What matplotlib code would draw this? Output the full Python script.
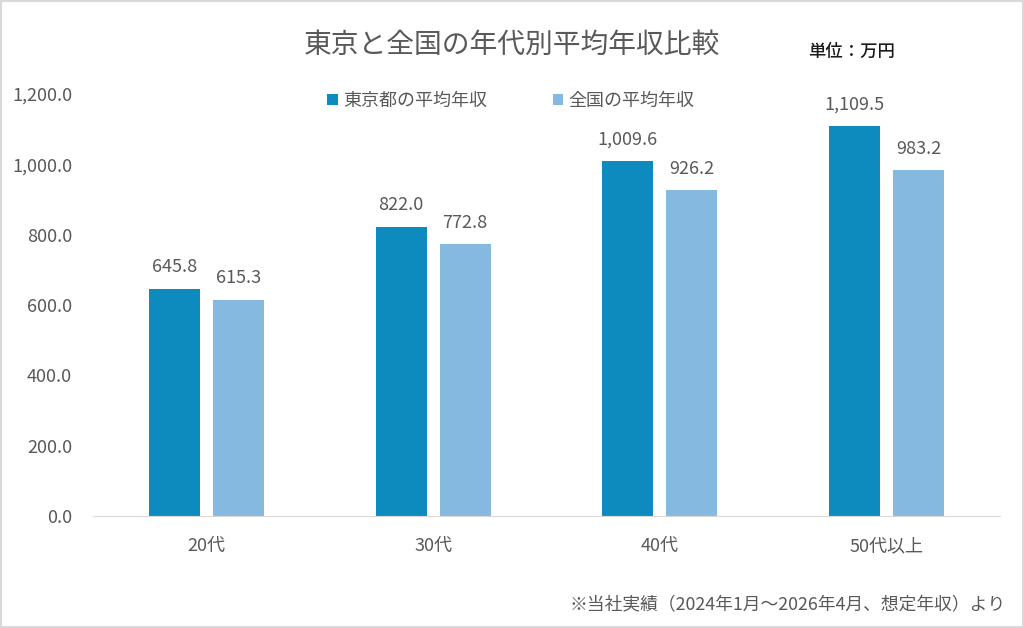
import matplotlib
matplotlib.use("Agg")
import matplotlib.pyplot as plt
import numpy as np
from matplotlib.patches import Rectangle

plt.rcParams['font.family'] = ['Noto Sans CJK JP', 'DejaVu Sans']

categories = ['20代', '30代', '40代', '50代以上']
tokyo = [645.8, 822.0, 1009.6, 1109.5]
national = [615.3, 772.8, 926.2, 983.2]
series_names = ['東京都の平均年収', '全国の平均年収']
yticks = [0, 200, 400, 600, 800, 1000, 1200]

c_tokyo = '#0E8BBE'
c_nat = '#85B9E0'
txt = '#595959'

fig = plt.figure(figsize=(10.24, 6.28), dpi=100)
ax = fig.add_axes([93 / 1024, 1 - 516 / 628, 907 / 1024, 422 / 628])

x = np.arange(len(categories))
w = 0.225
off = 0.141
b1 = ax.bar(x - off, tokyo, w, color=c_tokyo, label=series_names[0])
b2 = ax.bar(x + off, national, w, color=c_nat, label=series_names[1])

for bars in (b1, b2):
    for r in bars:
        ax.annotate(f'{r.get_height():,.1f}', (r.get_x() + r.get_width() / 2, r.get_height()),
                    xytext=(0, 9), textcoords='offset points', ha='center', va='bottom',
                    fontsize=13, color=txt, annotation_clip=False)

ax.set_xlim(-0.5, 3.5)
ax.set_ylim(0, 1200)
ax.set_yticks(yticks)
ax.set_yticklabels([f'{v:,.1f}' for v in yticks])
ax.set_xticks(x)
ax.set_xticklabels(categories)
ax.tick_params(axis='both', length=0, labelsize=13, colors=txt)
ax.tick_params(axis='x', pad=15)
ax.tick_params(axis='y', pad=15)
for s in ['top', 'right', 'left']:
    ax.spines[s].set_visible(False)
ax.spines['bottom'].set_color('#D9D9D9')

fig.text(512 / 1024, 1 - 45 / 628, '東京と全国の年代別平均年収比較', ha='center', va='center',
         fontsize=20, color=txt)
fig.text(852 / 1024, 1 - 52 / 628, '単位：万円', ha='center', va='center',
         fontsize=12.5, color='#1a1a1a', fontweight='medium')
fig.text(1006 / 1024, 1 - 604 / 628, '※当社実績（2024年1月～2026年4月、想定年収）より',
         ha='right', va='center', fontsize=12.8, color=txt)

fig.legend(loc='center', bbox_to_anchor=(511 / 1024, 1 - 101 / 628), ncol=2, frameon=False,
           fontsize=13, labelcolor=txt, handlelength=0.6, handleheight=0.6,
           handletextpad=0.3, columnspacing=3.6)

fig.patches.append(Rectangle((0.001, 0.001), 0.998, 0.997, transform=fig.transFigure,
                             fill=False, edgecolor='#D9D9D9', linewidth=1.5))

fig.savefig('out.png', dpi=100)
